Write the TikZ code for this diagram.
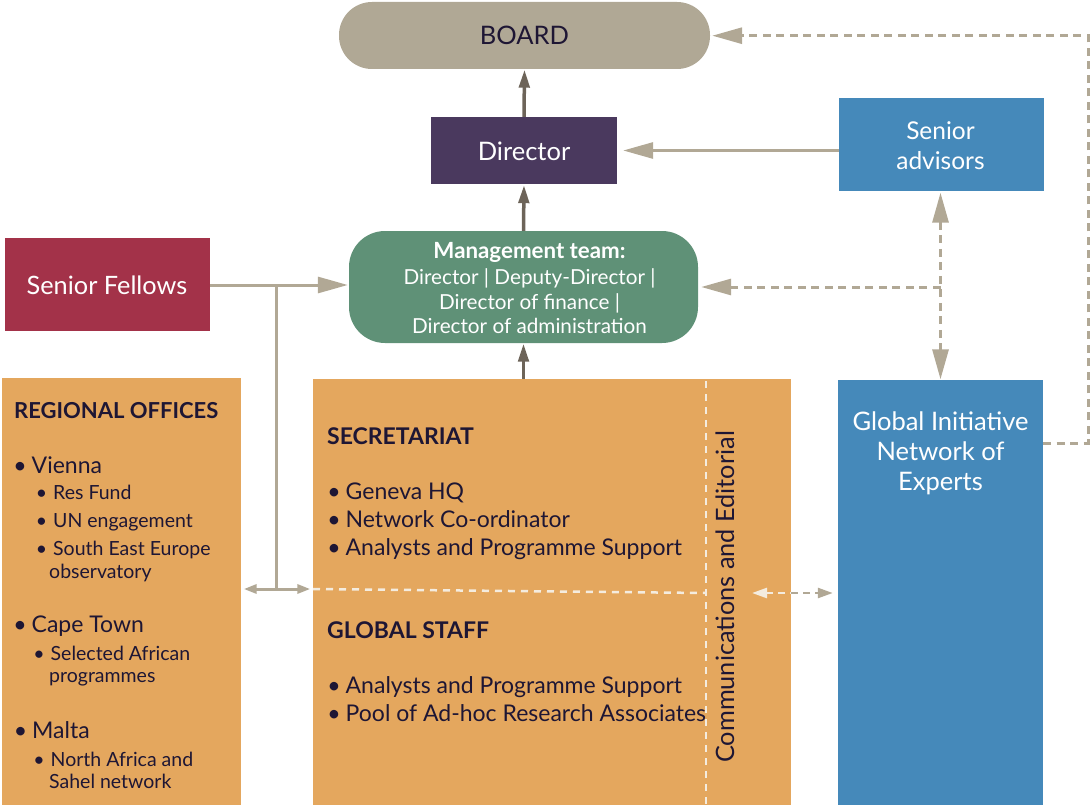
\documentclass[tikz,border=0pt]{standalone}
\usepackage{fontspec}
\setmainfont{Lato}
\usetikzlibrary{arrows.meta,calc}

\definecolor{boardc}{HTML}{B0A895}
\definecolor{ink}{HTML}{1E1634}
\definecolor{dirc}{HTML}{4A395E}
\definecolor{bluec}{HTML}{4589BA}
\definecolor{redc}{HTML}{A33249}
\definecolor{greenc}{HTML}{5F9177}
\definecolor{orangec}{HTML}{E4A75E}
\definecolor{darkline}{HTML}{6D6459}
\definecolor{beige}{HTML}{B1A895}
\definecolor{pale}{HTML}{F4ECDF}

\newcommand\fs[1]{\fontsize{#1}{#1}\selectfont}
\newcommand\bul[1]{\llap{•\hspace{#1}}}

\begin{document}
\begin{tikzpicture}[x=1pt,y=-1pt,
  blk/.style={draw=none, inner sep=0pt, minimum width=#1},
  lbl/.style={inner sep=0pt, anchor=base, text=white, font=\fs{25.5}},
  inklbl/.style={inner sep=0pt, anchor=base west, text=ink},
  mainitem/.style={inklbl, font=\fs{23}},
  subitem/.style={inklbl, font=\fs{19.5}},
  headitem/.style={inklbl, font=\bfseries\fs{23}},
  darkarr/.style={draw=darkline, line width=3.5pt, -{Triangle[length=18pt,width=10.5pt]}},
  bigarr/.style={draw=beige, line width=3pt, -{Triangle[length=30pt,width=16pt]}},
  dashln/.style={dash pattern=on 8pt off 5.5pt},
  paledash/.style={draw=pale, line width=2.5pt, dash pattern=on 7pt off 6pt}
]
\useasboundingbox (0,0) rectangle (1092,805);

% ---- boxes ----
\node[blk=371pt, minimum height=67pt, fill=boardc, rounded corners=33pt] (board) at (524.5,35.5) {};
\node[lbl, text=ink] (boardt) at (524.5,45) {BOARD};

\node[blk=186pt, minimum height=67pt, fill=dirc] (dir) at (524,150.5) {};
\node[lbl] (dirt) at (524,161) {Director};

\node[blk=205pt, minimum height=93pt, fill=bluec] (adv) at (941.5,145) {};
\node[lbl, font=\fs{24.5}] (advt1) at (940.5,140) {Senior};
\node[lbl, font=\fs{24.5}] (advt2) at (940.5,169.5) {advisors};

\node[blk=205pt, minimum height=93pt, fill=redc] (fel) at (107.5,284.5) {};
\node[lbl, font=\fs{25.3}] (felt) at (107,294) {Senior Fellows};

\node[blk=349pt, minimum height=112pt, fill=greenc, rounded corners=36pt] (mgmt) at (523.5,287) {};
\node[lbl, font=\bfseries\fs{22.3}] (mg1) at (529.5,258.5) {Management team:};
\node[lbl, font=\fs{20.7}] (mg2) at (529.5,284) {Director | Deputy-Director |};
\node[lbl, font=\fs{20.7}] (mg3) at (529.5,309) {Director of finance |};
\node[lbl, font=\fs{20.7}] (mg4) at (529.5,333.5) {Director of administration};

\node[blk=239pt, minimum height=427pt, fill=orangec] (reg) at (121.5,591.5) {};
\node[blk=478pt, minimum height=426pt, fill=orangec] (cen) at (552,592) {};
\node[blk=205pt, minimum height=425pt, fill=bluec] (gi) at (940.5,592.5) {};

% ---- separators inside the central block ----
\draw[paledash] (706,381) -- (706,805);
\draw[paledash] (313,589) -- (706,593);

% ---- regional offices ----
\node[headitem, font=\bfseries\fs{22}] (rh) at (14,418) {REGIONAL OFFICES};
\node[mainitem] (r1) at (31.5,473) {\bul{5pt}Vienna};
\node[subitem] (r2) at (53,499.5) {\bul{6pt}Res Fund};
\node[subitem] (r3) at (53,527) {\bul{6pt}UN engagement};
\node[subitem] (r4) at (53,555) {\bul{6pt}South East Europe};
\node[subitem] (r5) at (49,578) {observatory};
\node[mainitem] (r6) at (31.5,632) {\bul{5pt}Cape Town};
\node[subitem] (r7) at (50.5,660) {\bul{6pt}Selected African};
\node[subitem] (r8) at (49,682.5) {programmes};
\node[mainitem] (r9) at (32,738) {\bul{5pt}Malta};
\node[subitem] (r10) at (50.5,766) {\bul{6pt}North Africa and};
\node[subitem] (r11) at (49,788.5) {Sahel network};

% ---- secretariat and global staff ----
\node[headitem] (sh) at (327,444) {SECRETARIAT};
\node[mainitem] (s1) at (345.5,499.5) {\bul{5pt}Geneva HQ};
\node[mainitem] (s2) at (345.5,527.5) {\bul{5pt}Network Co-ordinator};
\node[mainitem] (s3) at (345.5,555.5) {\bul{5pt}Analysts and Programme Support};
\node[headitem] (gh) at (327,638) {GLOBAL STAFF};
\node[mainitem] (g1) at (345.5,693.5) {\bul{5pt}Analysts and Programme Support};
\node[mainitem] (g2) at (345.5,721.5) {\bul{5pt}Pool of Ad-hoc Research Associates};

\node[inklbl, font=\fs{25.3}, rotate=90] (comm) at (734,763) {Communications and Editorial};

% ---- global initiative ----
\node[lbl] (gi1) at (940.5,430) {Global Initiative};
\node[lbl] (gi2) at (940.5,460.5) {Network of};
\node[lbl] (gi3) at (940.5,490.5) {Experts};

% ---- reporting lines ----
\draw[darkarr, shorten >=0.5pt] (dir.north) -- (board.south);
\draw[darkarr, shorten >=1pt] (mgmt.north) -- (dir.south);
\draw[darkarr, shorten >=0.5pt] (mgmt.south |- cen.north) -- (mgmt.south);

\draw[bigarr, shorten >=6pt] (adv.west |- dir.east) -- (dir.east);
\draw[bigarr, shorten >=1pt] (fel.east |- 0,285) -- (mgmt.west |- 0,285);

\coordinate (fj) at (276,285);
\coordinate (rj) at (276,589);
\draw[beige, line width=3pt] (fj) -- (rj);
\draw[draw=beige, line width=3pt, {Triangle[length=13pt,width=9pt]}-{Triangle[length=13pt,width=9pt]},
      shorten <=2.5pt, shorten >=2.5pt] (reg.east |- rj) -- (cen.west |- rj);

% ---- advisory (dashed) lines ----
\coordinate (gr) at (1088,443);
\coordinate (tr) at (1088,35.7);
\draw[bigarr, dashln, shorten >=2pt] (gi.east |- gr) -- (gr) -- (tr) -- (board.east |- tr);
\draw[bigarr, dashln, {Triangle[length=30pt,width=16pt]}-{Triangle[length=30pt,width=16pt]},
      shorten <=1pt, shorten >=0.5pt] (adv.south -| gi.north) -- (gi.north);
\draw[bigarr, dashln, shorten >=3pt] (gi.north |- 0,287) -- (mgmt.east |- 0,287);

\coordinate (cm) at (791,593);
\draw[draw=pale, line width=2.5pt, dash pattern=on 7pt off 5pt, {Triangle[length=15pt,width=10pt]}-]
      (752,593) -- (cm);
\draw[draw=beige, line width=2.5pt, dash pattern=on 7pt off 5pt, -{Triangle[length=15pt,width=10pt]},
      shorten >=5pt] (cm) -- (gi.west |- cm);
\end{tikzpicture}
\end{document}
